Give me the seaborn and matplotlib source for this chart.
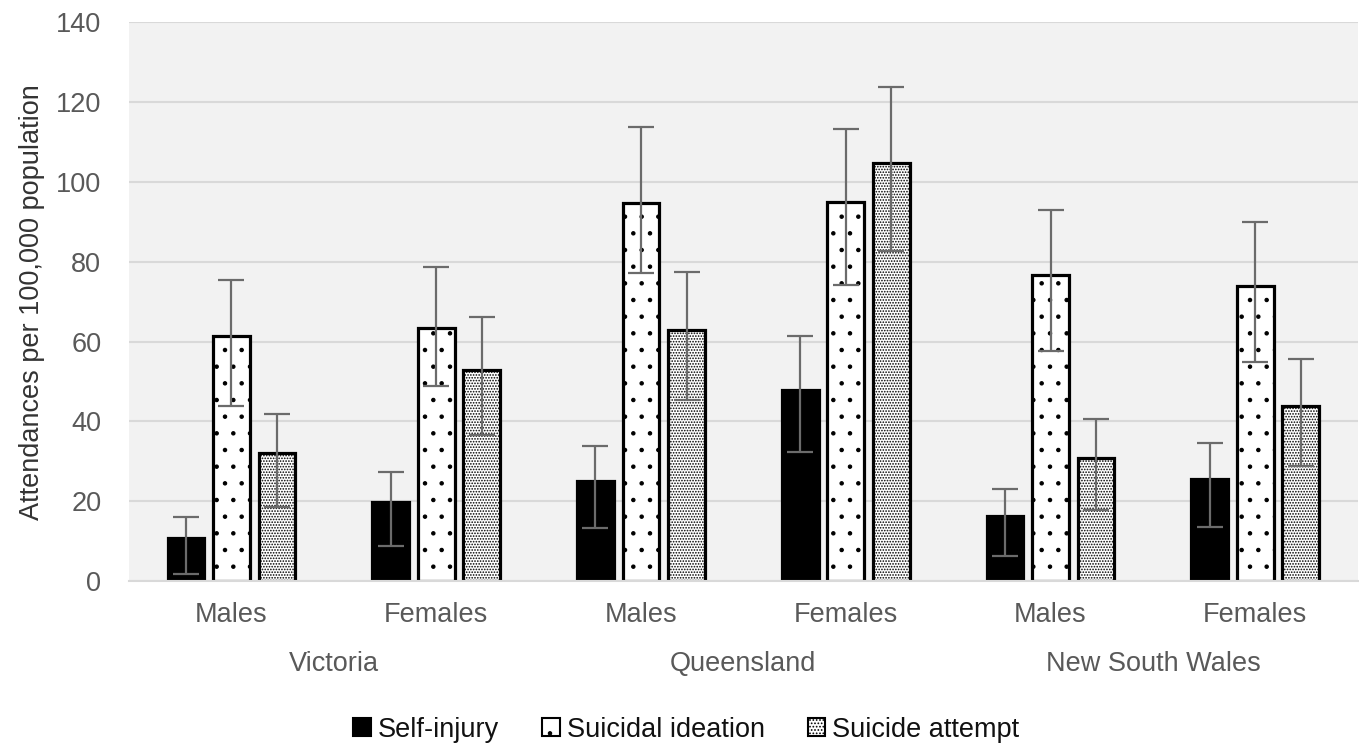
import matplotlib
matplotlib.use("Agg")
import matplotlib.pyplot as plt
from matplotlib.patches import Patch
import numpy as np
import pandas as pd
import seaborn as sns

states = ["Victoria", "Queensland", "New South Wales"]
sexes = ["Males", "Females"]
types = ["Self-injury", "Suicidal ideation", "Suicide attempt"]

# rows: Vic M, Vic F, Qld M, Qld F, NSW M, NSW F
self_injury = [10.8, 19.8, 25.1, 47.9, 16.3, 25.6]
self_injury_lo = [1.9, 8.8, 13.3, 32.3, 6.3, 13.5]
self_injury_hi = [16.1, 27.3, 33.9, 61.3, 23.2, 34.5]

ideation = [61.3, 63.3, 94.8, 95.1, 76.8, 73.9]
ideation_lo = [43.8, 48.8, 77.3, 74.3, 57.6, 54.9]
ideation_hi = [75.4, 78.8, 113.8, 113.3, 93.0, 90.0]

attempt = [32.2, 53.0, 62.9, 104.8, 30.8, 43.8]
attempt_lo = [18.6, 36.7, 45.4, 82.6, 17.9, 28.8]
attempt_hi = [41.9, 66.2, 77.5, 123.8, 40.6, 55.6]

groups = [f"{st} {sx}" for st in states for sx in sexes]
values = [self_injury, ideation, attempt]
lows = [self_injury_lo, ideation_lo, attempt_lo]
highs = [self_injury_hi, ideation_hi, attempt_hi]

df = pd.DataFrame({
    "group": np.tile(groups, 3),
    "type": np.repeat(types, len(groups)),
    "rate": np.concatenate(values),
})

sns.set_style("white")
plt.rcParams["font.family"] = ["Liberation Sans", "DejaVu Sans"]
plt.rcParams["hatch.linewidth"] = 0.8
plt.rcParams["hatch.color"] = "black"

fig = plt.figure(figsize=(13.59, 7.46), dpi=100)
ax = fig.add_axes([0.095, 0.221, 0.904, 0.749])
ax.set_facecolor("#f2f2f2")

sns.barplot(data=df, x="group", y="rate", hue="type", order=groups,
            hue_order=types, palette=["black", "white", "white"],
            width=0.667, gap=0.19, errorbar=None, ax=ax,
            edgecolor="black", linewidth=2.3, legend=False)

hatches = ["", ".", "......"]
for cont, h, lo, hi in zip(ax.containers, hatches, lows, highs):
    xs = []
    ys = []
    for bar in cont:
        bar.set_hatch(h)
        xs.append(bar.get_x() + bar.get_width() / 2)
        ys.append(bar.get_height())
    ys = np.array(ys)
    yerr = [ys - np.array(lo), np.array(hi) - ys]
    ax.errorbar(xs, ys, yerr=yerr, fmt="none", ecolor="#6b6b6b",
                elinewidth=1.6, capsize=9.5, capthick=1.6, zorder=5)

ax.set_xlim(-0.5, len(groups) - 0.5)
ax.set_ylim(0, 140)
ax.set_yticks(np.arange(0, 141, 20))
ax.yaxis.grid(True, color="#d9d9d9", linewidth=1.5)
ax.set_axisbelow(True)
for s in ["top", "right", "left"]:
    ax.spines[s].set_visible(False)
ax.spines["bottom"].set_color("#d9d9d9")
ax.spines["bottom"].set_linewidth(1.5)

ax.set_xticks(range(len(groups)))
ax.set_xticklabels([sx for st in states for sx in sexes])
ax.tick_params(axis="both", length=0, labelsize=19.5, colors="#595959")
ax.tick_params(axis="x", pad=15)
ax.tick_params(axis="y", pad=20)
ax.set_xlabel("")
ax.set_ylabel("Attendances per 100,000 population", fontsize=19.5,
              color="#333333", labelpad=8)

for i, st in enumerate(states):
    ax.text(2 * i + 0.5, -0.148, st, transform=ax.get_xaxis_transform(),
            ha="center", va="center", fontsize=19.5, color="#595959")

handles = [Patch(facecolor=c, edgecolor="black", hatch=h, linewidth=1.5)
           for c, h in zip(["black", "white", "white"], ["", ".", "....."])]
fig.legend(handles, types, loc="center", bbox_to_anchor=(0.505, 0.022),
           ncol=3, frameon=False, fontsize=19.5, handlelength=0.65,
           handleheight=0.65, handletextpad=0.25, columnspacing=1.6,
           labelcolor="#111111")

fig.savefig("out.png", dpi=100, facecolor="white")
